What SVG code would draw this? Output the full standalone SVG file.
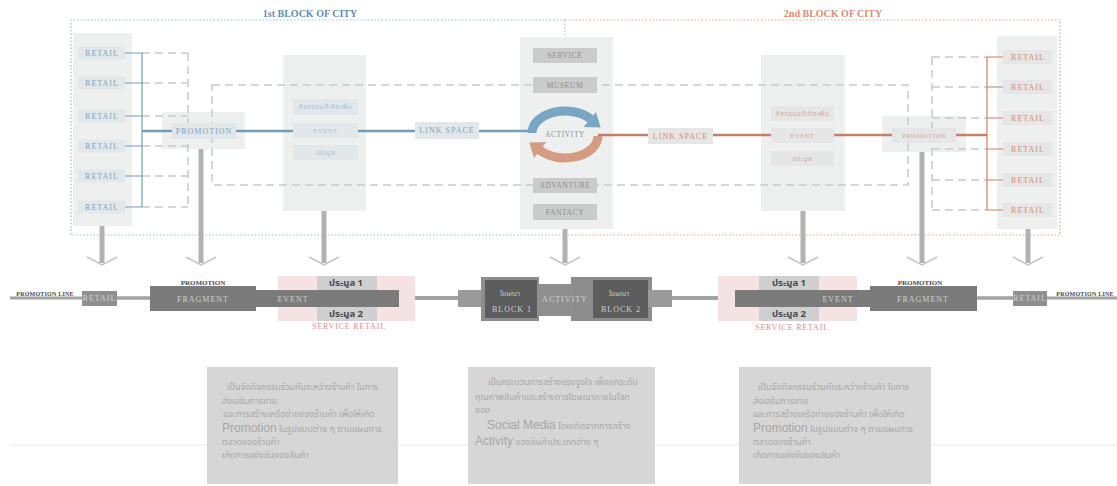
<svg xmlns="http://www.w3.org/2000/svg" width="1117" height="486" viewBox="0 0 1117 486">
  <defs>
    <style>
      .panel { fill: #eef0f0; }
      .lbl-b { fill: #e2e7ea; }
      .lbl-r { fill: #e6e6e6; }
      .lbl-c { fill: #cbcbcb; }
      .t { font-family: "Liberation Serif", serif; text-anchor: middle; dominant-baseline: central; }
      .tb { fill: #79a5c2; font-size: 8px; letter-spacing: 1px; }
      .tr { fill: #d98a6e; font-size: 8px; letter-spacing: 1px; }
      .tg { fill: #8c8c8c; font-size: 7.5px; letter-spacing: 0.6px; }
      .tbl { fill: #a9bfcd; font-size: 6.5px; letter-spacing: 0.6px; }
      .trl { fill: #c9aaa0; font-size: 6.5px; letter-spacing: 0.6px; }
      .thai { font-family: "Noto Sans Thai", "DejaVu Sans", "Noto Sans", sans-serif; }
      .title { font-family: "Liberation Serif", serif; font-size: 10px; font-weight: bold; text-anchor: middle; }
      .dash { fill: none; stroke: #c9c9c9; stroke-width: 1.5; stroke-dasharray: 8 5; }
      .blue { fill: none; stroke: #6f9dbb; }
      .red { fill: none; stroke: #cf7d60; }
      .drop { stroke: #b2b2b2; stroke-width: 5; }
      .chev { fill: none; stroke: #c4c4c4; stroke-width: 1.5; }
      .rail { stroke: #a3a3a3; }
      .bar { fill: #7b7b7b; }
      .lt { fill: #cfcfcf; font-size: 8px; letter-spacing: 1px; }
      .dk { fill: #4a4a4a; font-weight: bold; }
      .note { fill: #d6d6d6; }
      .nt { font-family: "Noto Sans Thai", "DejaVu Sans", "Noto Sans", sans-serif; fill: #a6a6a6; font-size: 9px; }
      .ntl { font-family: "Liberation Sans", "Noto Sans", sans-serif; font-size: 12px; }
    </style>
  </defs>

  <!-- city block frames -->
  <g id="block-frames" fill="none" stroke-width="1.2" stroke-dasharray="1.5 2">
    <path d="M565 20 H71 V235 H565" stroke="#9fbdd0"/>
    <path d="M565 20 H1060 V235 H565" stroke="#e3a593"/>
    <line x1="565" y1="20" x2="565" y2="235" stroke="#bdbdbd"/>
    <text class="title" x="310" y="17" fill="#5e8fb1">1st BLOCK OF CITY</text>
    <text class="title" x="833" y="17" fill="#d98c73">2nd BLOCK OF CITY</text>
  </g>

  <!-- background zones -->
  <g id="zones">
    <rect class="panel" x="73" y="33" width="59" height="193"/>
    <rect class="panel" x="162" y="112" width="83" height="37"/>
    <rect class="panel" x="283" y="55" width="83" height="156"/>
    <rect class="panel" x="520" y="37" width="93" height="192"/>
    <rect class="panel" x="761" y="55" width="84" height="156"/>
    <rect class="panel" x="882" y="116" width="84" height="36"/>
    <rect class="panel" x="997" y="36" width="60" height="193"/>
  </g>

  <!-- connectors -->
  <g id="connectors">
    <!-- dashed service loops -->
    <path class="dash" d="M142 53 H188 M142 83 H188 M142 116 H188 M142 146 H188 M142 176 H188 M142 207 H188 M188 53 V207"/>
    <path class="dash" d="M212 85 H908 V185 H212 Z"/>
    <path class="dash" d="M932 57 H987 M932 87 H987 M932 118 H987 M932 149 H987 M932 180 H987 M932 210 H987 M932 57 V210"/>
    <!-- blue link, 1st block -->
    <path class="blue" stroke-width="1.2" d="M125 53 H142 M125 83 H142 M125 116 H142 M125 146 H142 M125 176 H142 M125 207 H142 M142 53 V207"/>
    <line class="blue" stroke-width="2.6" x1="142" y1="131" x2="532" y2="131"/>
    <!-- red link, 2nd block -->
    <path class="red" stroke-width="1.2" d="M987 57 H1003 M987 87 H1003 M987 118 H1003 M987 149 H1003 M987 180 H1003 M987 210 H1003 M987 57 V210"/>
    <line class="red" stroke-width="2.6" x1="598" y1="135" x2="987" y2="135"/>
    <!-- drops to the promotion line -->
    <g>
      <line class="drop" x1="102" y1="226" x2="102" y2="263"/>
      <line class="drop" x1="201" y1="149" x2="201" y2="263"/>
      <line class="drop" x1="324" y1="211" x2="324" y2="263"/>
      <line class="drop" x1="565" y1="229" x2="565" y2="263"/>
      <line class="drop" x1="803" y1="211" x2="803" y2="263"/>
      <line class="drop" x1="922" y1="152" x2="922" y2="263"/>
      <line class="drop" x1="1028" y1="229" x2="1028" y2="263"/>
      <path class="chev" d="M87 257 L102 265 L117 257 M186 257 L201 265 L216 257 M309 257 L324 265 L339 257 M550 257 L565 265 L580 257 M788 257 L803 265 L818 257 M907 257 L922 265 L937 257 M1013 257 L1028 265 L1043 257"/>
    </g>
    <!-- promotion line rail -->
    <g class="rail">
      <line x1="10" y1="298" x2="82" y2="298" stroke-width="3"/>
      <line x1="117" y1="298" x2="150" y2="298" stroke-width="3.5"/>
      <line x1="399" y1="298" x2="458" y2="298" stroke-width="4"/>
      <line x1="672" y1="298" x2="718" y2="298" stroke-width="4"/>
      <line x1="977" y1="298" x2="1013" y2="298" stroke-width="3.5"/>
      <line x1="1047" y1="298" x2="1117" y2="298" stroke-width="3"/>
    </g>
    <line x1="10" y1="445" x2="1117" y2="445" stroke="#e6e6e6" stroke-width="1"/>
  </g>

  <!-- 1st block retail column -->
  <g id="retail-1">
    <rect class="lbl-b" x="78" y="46.5" width="47" height="13"/>
    <rect class="lbl-b" x="78" y="76.5" width="47" height="13"/>
    <rect class="lbl-b" x="78" y="109.5" width="47" height="13"/>
    <rect class="lbl-b" x="78" y="139.5" width="47" height="13"/>
    <rect class="lbl-b" x="78" y="169.5" width="47" height="13"/>
    <rect class="lbl-b" x="78" y="200.5" width="47" height="13"/>
    <text class="t tb" x="102" y="53">RETAIL</text>
    <text class="t tb" x="102" y="83">RETAIL</text>
    <text class="t tb" x="102" y="116">RETAIL</text>
    <text class="t tb" x="102" y="146">RETAIL</text>
    <text class="t tb" x="102" y="176">RETAIL</text>
    <text class="t tb" x="102" y="207">RETAIL</text>
  </g>

  <g id="promotion-1">
    <rect class="lbl-b" x="172" y="123" width="64" height="16"/>
    <text class="t tb" x="204" y="131" font-size="6.5" letter-spacing="0.6">PROMOTION</text>
  </g>

  <g id="event-1">
    <rect class="lbl-b" x="293" y="99" width="65" height="16"/>
    <rect class="lbl-b" x="293" y="123" width="65" height="15"/>
    <rect class="lbl-b" x="293" y="145" width="65" height="15"/>
    <text class="t tbl thai" x="325.5" y="107" font-size="5.5" letter-spacing="0">กิจกรรมที่เกิดเพิ่ม</text>
    <text class="t tbl" x="325.5" y="130.5">EVENT</text>
    <text class="t tbl thai" x="325.5" y="152.5" font-size="5.5" letter-spacing="0">ประมูล</text>
  </g>

  <g id="link-space-1">
    <rect class="lbl-b" x="415" y="122" width="64" height="17"/>
    <text class="t tb" x="447" y="130.5" font-size="6.5" letter-spacing="0.6">LINK SPACE</text>
  </g>

  <g id="activity-hub">
    <rect class="lbl-c" x="533" y="48" width="64" height="15"/>
    <rect class="lbl-c" x="533" y="77" width="64" height="16"/>
    <rect class="lbl-c" x="533" y="178" width="64" height="15"/>
    <rect class="lbl-c" x="533" y="204" width="64" height="16"/>
    <text class="t tg" x="565" y="55.5">SERVICE</text>
    <text class="t tg" x="565" y="85">MUSEUM</text>
    <text class="t tg" x="565" y="185.5">ADVANTURE</text>
    <text class="t tg" x="565" y="212">FANTACY</text>
    <!-- cycle arrows -->
    <path d="M532 133 A33 22 0 0 1 590.3 118.9" fill="none" stroke="#78a6c3" stroke-width="9"/>
    <polygon points="583.7,126.9 595.9,111.9 600.7,127.4" fill="#78a6c3"/>
    <path d="M598 136 A33 22 0 0 1 539.7 150.1" fill="none" stroke="#d59c84" stroke-width="9"/>
    <polygon points="546.3,142.1 534.1,158.1 529.3,142.6" fill="#d59c84"/>
    <text class="t tg" x="565" y="134" font-size="6.5" fill="#888">ACTIVITY</text>
  </g>

  <g id="link-space-2">
    <rect class="lbl-r" x="648" y="128" width="65" height="16"/>
    <text class="t tr" x="680.5" y="136" font-size="6.5" letter-spacing="0.6">LINK SPACE</text>
  </g>

  <g id="event-2">
    <rect class="lbl-r" x="771" y="106" width="63" height="15"/>
    <rect class="lbl-r" x="771" y="128" width="63" height="15"/>
    <rect class="lbl-r" x="771" y="151" width="63" height="15"/>
    <text class="t trl thai" x="802.5" y="113.5" font-size="5.5" letter-spacing="0">กิจกรรมที่เกิดเพิ่ม</text>
    <text class="t trl" x="802.5" y="135.5">EVENT</text>
    <text class="t trl thai" x="802.5" y="158.5" font-size="5.5" letter-spacing="0">ประมูล</text>
  </g>

  <g id="promotion-2">
    <rect class="lbl-r" x="892" y="128" width="64" height="15"/>
    <text class="t trl" x="924" y="135.5">PROMOTION</text>
  </g>

  <g id="retail-2">
    <rect class="lbl-r" x="1003" y="50" width="49" height="14"/>
    <rect class="lbl-r" x="1003" y="80" width="49" height="14"/>
    <rect class="lbl-r" x="1003" y="111" width="49" height="14"/>
    <rect class="lbl-r" x="1003" y="142" width="49" height="14"/>
    <rect class="lbl-r" x="1003" y="173" width="49" height="14"/>
    <rect class="lbl-r" x="1003" y="203" width="49" height="14"/>
    <text class="t tr" x="1028" y="57">RETAIL</text>
    <text class="t tr" x="1028" y="87">RETAIL</text>
    <text class="t tr" x="1028" y="118">RETAIL</text>
    <text class="t tr" x="1028" y="149">RETAIL</text>
    <text class="t tr" x="1028" y="180">RETAIL</text>
    <text class="t tr" x="1028" y="210">RETAIL</text>
  </g>

  <!-- promotion line, left half -->
  <g id="line-start-left">
    <text class="t dk" x="45" y="294" font-size="6" letter-spacing="0.2">PROMOTION LINE</text>
  </g>
  <g id="retail-stop-left">
    <rect x="82" y="291" width="35" height="15" fill="#8f8f8f"/>
    <text class="t lt" x="99.5" y="298.5" font-size="6.5" letter-spacing="0.6">RETAIL</text>
  </g>
  <g id="fragment-left">
    <rect class="bar" x="150" y="286" width="106" height="25"/>
    <text class="t dk" x="203" y="283" font-size="7" fill="#555" font-weight="normal">PROMOTION</text>
    <text class="t lt" x="203" y="299">FRAGMENT</text>
  </g>
  <g id="service-retail-left">
    <rect x="278" y="276" width="137" height="45" fill="#f5e2e2"/>
    <rect x="317" y="276" width="60" height="14" fill="#cfcfcf"/>
    <rect x="317" y="307" width="60" height="14" fill="#cfcfcf"/>
    <rect class="bar" x="256" y="290" width="143" height="17"/>
    <text class="t lt" x="293" y="299">EVENT</text>
    <text class="t dk thai" x="346" y="283" font-size="9.5">ประมูล 1</text>
    <text class="t dk thai" x="346" y="314" font-size="9.5">ประมูล 2</text>
    <text class="t" x="349" y="326.5" font-size="8" fill="#e38c8c" letter-spacing="0.8">SERVICE RETAIL</text>
  </g>

  <!-- advertising blocks around the activity core -->
  <g id="ad-block-1">
    <rect x="458" y="290" width="25" height="17" fill="#9a9a9a"/>
    <rect x="481" y="277" width="58" height="44" fill="#8d8d8d"/>
    <rect x="485" y="280" width="52" height="38" fill="#5d5d5d"/>
    <text class="t thai" x="510" y="294" font-size="7" fill="#c8c8c8">โฆษณา</text>
    <text class="t lt" x="512" y="309" font-size="7.5">BLOCK 1</text>
  </g>
  <g id="ad-block-2">
    <rect x="571" y="277" width="81" height="44" fill="#8d8d8d"/>
    <rect x="593" y="280" width="55" height="38" fill="#5d5d5d"/>
    <rect x="648" y="290" width="24" height="17" fill="#9a9a9a"/>
    <text class="t thai" x="619" y="294" font-size="7" fill="#c8c8c8">โฆษณา</text>
    <text class="t lt" x="621" y="309" font-size="7.5">BLOCK 2</text>
  </g>
  <g id="activity-core">
    <rect x="537" y="284" width="36" height="32" fill="#8f8f8f"/>
    <text class="t lt" x="565" y="299" font-size="7.5" letter-spacing="0.6">ACTIVITY</text>
  </g>

  <!-- promotion line, right half -->
  <g id="service-retail-right">
    <rect x="718" y="276" width="139" height="45" fill="#f5e2e2"/>
    <rect x="759" y="276" width="60" height="14" fill="#cfcfcf"/>
    <rect x="759" y="307" width="60" height="14" fill="#cfcfcf"/>
    <rect class="bar" x="735" y="290" width="135" height="17"/>
    <text class="t lt" x="838" y="299">EVENT</text>
    <text class="t dk thai" x="789" y="283" font-size="9.5">ประมูล 1</text>
    <text class="t dk thai" x="789" y="314" font-size="9.5">ประมูล 2</text>
    <text class="t" x="792" y="327" font-size="8" fill="#e38c8c" letter-spacing="0.8">SERVICE RETAIL</text>
  </g>
  <g id="fragment-right">
    <rect class="bar" x="870" y="286" width="107" height="25"/>
    <text class="t dk" x="920" y="283" font-size="7" fill="#555" font-weight="normal">PROMOTION</text>
    <text class="t lt" x="923" y="299">FRAGMENT</text>
  </g>
  <g id="retail-stop-right">
    <rect x="1013" y="291" width="34" height="15" fill="#8f8f8f"/>
    <text class="t lt" x="1030" y="298.5" font-size="6.5" letter-spacing="0.6">RETAIL</text>
  </g>
  <g id="line-end-right">
    <text class="t dk" x="1085" y="294" font-size="6" letter-spacing="0.2">PROMOTION LINE</text>
  </g>

  <!-- notes -->
  <g id="note-1">
    <rect class="note" x="207" y="367" width="191" height="117"/>
    <text class="nt" x="227" y="390">เป็นจัดกิจกรรมร่วมกันระหว่างร้านค้า ในการ</text>
    <text class="nt" x="222" y="404">ส่งเสริมการขาย</text>
    <text class="nt" x="223" y="417">และการสร้างเครือข่ายของร้านค้า เพื่อให้เกิด</text>
    <text class="nt" x="222" y="432"><tspan class="ntl">Promotion</tspan> ในรูปแบบต่าง ๆ ตามแผนการ</text>
    <text class="nt" x="222" y="445">ตลาดของร้านค้า</text>
    <text class="nt" x="222" y="458">เกิดการแข่งขันของสินค้า</text>
  </g>
  <g id="note-2">
    <rect class="note" x="468" y="367" width="187" height="117"/>
    <text class="nt" x="488" y="385">เป็นกระบวนการสร้างแรงจูงใจ เพื่อยกระดับ</text>
    <text class="nt" x="475" y="400">คุณภาพสินค้าและสร้างการโฆษณาภายในโลก</text>
    <text class="nt" x="475" y="413">ของ</text>
    <text class="nt" x="487" y="429"><tspan class="ntl">Social Media</tspan> โดยเกิดจากการสร้าง</text>
    <text class="nt" x="475" y="445"><tspan class="ntl">Activity</tspan> ของสินค้าประเภทต่าง ๆ</text>
  </g>
  <g id="note-3">
    <rect class="note" x="739" y="367" width="192" height="117"/>
    <text class="nt" x="758" y="390">เป็นจัดกิจกรรมร่วมกันระหว่างร้านค้า ในการ</text>
    <text class="nt" x="753" y="404">ส่งเสริมการขาย</text>
    <text class="nt" x="753" y="417">และการสร้างเครือข่ายของร้านค้า เพื่อให้เกิด</text>
    <text class="nt" x="753" y="432"><tspan class="ntl">Promotion</tspan> ในรูปแบบต่าง ๆ ตามแผนการ</text>
    <text class="nt" x="753" y="445">ตลาดของร้านค้า</text>
    <text class="nt" x="753" y="458">เกิดการแข่งขันของสินค้า</text>
  </g>
</svg>
